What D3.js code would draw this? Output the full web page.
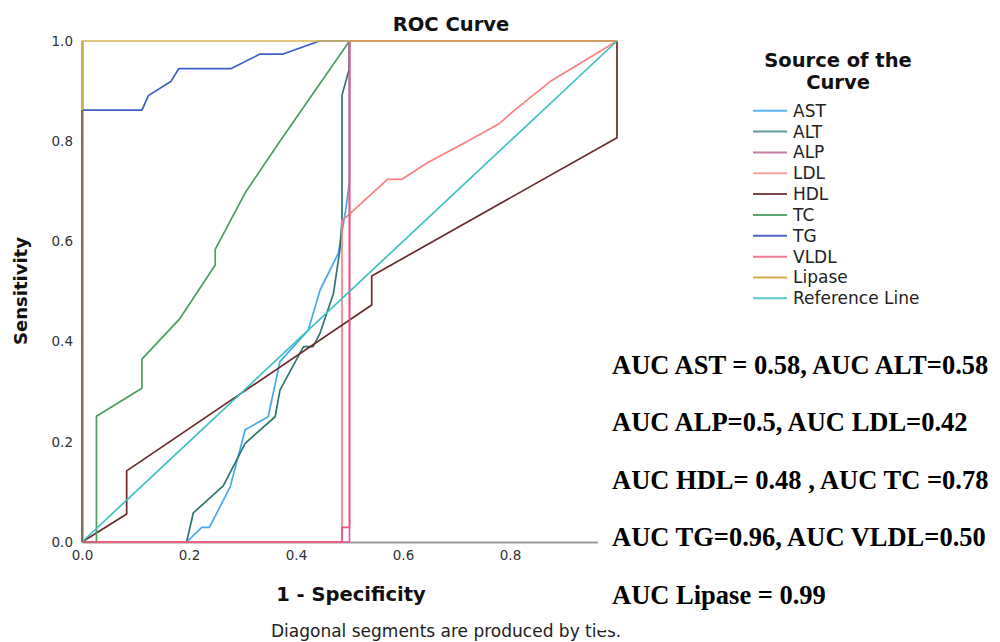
<!DOCTYPE html>
<html>
<head>
<meta charset="utf-8">
<script src="https://cdn.jsdelivr.net/npm/d3@7"></script>
<style>
  body { margin: 0; background: #fff; }
  svg { display: block; }
</style>
</head>
<body>
<script>
// ROC points, [1 - specificity, sensitivity]
var ast = [[0.1955,0],[0.224,0.029],[0.238,0.029],[0.277,0.11],[0.305,0.224],[0.348,0.25],[0.37,0.36],[0.423,0.423],[0.445,0.503],[0.479,0.576],[0.493,0.663],[0.5,0.72],[0.5,1],[1,1]];
var alt = [[0.1955,0],[0.208,0.058],[0.264,0.112],[0.305,0.197],[0.361,0.25],[0.37,0.303],[0.414,0.39],[0.432,0.39],[0.445,0.417],[0.47,0.496],[0.482,0.583],[0.486,0.643],[0.486,0.892],[0.499,0.942],[0.5,1],[1,1]];
var alp = [[0,0],[0.5,0],[0.5,1],[1,1]];
var ldl = [[0,0],[0.486,0],[0.486,0.641],[0.571,0.724],[0.598,0.724],[0.644,0.756],[0.731,0.806],[0.781,0.836],[0.803,0.857],[0.875,0.919],[1,1]];
var hdl = [[0,0],[0.0835,0.056],[0.0835,0.142],[0.5415,0.473],[0.5415,0.531],[1,0.807],[1,1]];
var tc = [[0,0],[0.027,0],[0.027,0.251],[0.112,0.307],[0.112,0.365],[0.183,0.446],[0.249,0.553],[0.249,0.584],[0.305,0.697],[0.37,0.80],[0.5,1],[1,1]];
var tg = [[0,0],[0,0.862],[0.112,0.862],[0.124,0.891],[0.166,0.919],[0.181,0.945],[0.279,0.945],[0.333,0.974],[0.376,0.974],[0.444,1],[1,1]];
var vldl = [[0,0],[0.486,0],[0.486,0.029],[0.5,0.029],[0.5,1],[1,1]];
var lipase = [[0,0],[0,1],[1,1]];
var refLine = [[0,0],[1,1]];

var names = ["AST", "ALT", "ALP", "LDL", "HDL", "TC", "TG", "VLDL", "Lipase", "Reference Line"];
var curves = [ast, alt, alp, ldl, hdl, tc, tg, vldl, lipase, refLine];
var xTicks = [0, 0.2, 0.4, 0.6, 0.8];
var yTicks = [0, 0.2, 0.4, 0.6, 0.8, 1.0];
var aucLines = [
  "AUC AST = 0.58, AUC ALT=0.58",
  "AUC ALP=0.5, AUC LDL=0.42",
  "AUC HDL= 0.48 , AUC TC =0.78",
  "AUC TG=0.96, AUC VLDL=0.50",
  "AUC Lipase = 0.99"
];

var colors = ["#45a8f0", "#2f7670", "#d8639a", "#f98080", "#6a2a2a", "#4b9e5e", "#3b5fc6", "#f0557c", "#d6b254", "#3cc0c0"];
var legendColors = ["#5ab4f2", "#5f9a95", "#c57fa2", "#f8a0a0", "#7a4444", "#5aa66c", "#4a68c0", "#ef7a96", "#d4aa4a", "#5ccaca"];

var width = 1000, height = 642;

var svg = d3.select("body").append("svg")
    .attr("width", width)
    .attr("height", height);

var x = d3.scaleLinear().domain([0, 1]).range([82, 617]);
var y = d3.scaleLinear().domain([0, 1]).range([542, 41]);

// axes
svg.append("g")
    .attr("transform", "translate(0,542)")
    .call(d3.axisBottom(x).tickValues(xTicks).tickSize(0).tickPadding(8).tickFormat(d3.format(".1f")))
    .call(g => g.select(".domain").attr("stroke", "#9a9a9a").attr("stroke-width", 2))
    .call(g => g.selectAll("text").attr("font-family", "DejaVu Sans").attr("font-size", 13.5).attr("fill", "#333"));

svg.append("g")
    .attr("transform", "translate(82,0)")
    .call(d3.axisLeft(y).tickValues(yTicks).tickSize(0).tickPadding(9).tickFormat(d3.format(".1f")))
    .call(g => g.select(".domain").attr("stroke", "#7b7050").attr("stroke-width", 2))
    .call(g => g.selectAll("text").attr("font-family", "DejaVu Sans").attr("font-size", 13.5).attr("fill", "#333"));

var line = d3.line()
    .x(d => x(d[0]))
    .y(d => y(d[1]));

svg.append("g")
  .selectAll("path")
  .data(curves)
  .join("path")
    .attr("d", line)
    .attr("fill", "none")
    .attr("stroke", (d, i) => colors[i])
    .attr("stroke-width", 1.7)
    .attr("stroke-linejoin", "round");

// lower part of the left edge reads darker where TG and Lipase overlap
svg.append("path")
    .attr("d", line([[0, 0], [0, 0.862]]))
    .attr("stroke", "#7b7050")
    .attr("stroke-width", 2);

// titles
svg.append("text")
    .attr("x", 451).attr("y", 31)
    .attr("text-anchor", "middle")
    .attr("font-family", "DejaVu Sans").attr("font-weight", "bold").attr("font-size", 19.5)
    .attr("fill", "#111")
    .text("ROC Curve");

svg.append("text")
    .attr("transform", "translate(27,291) rotate(-90)")
    .attr("text-anchor", "middle")
    .attr("font-family", "DejaVu Sans").attr("font-weight", "bold").attr("font-size", 18)
    .attr("fill", "#111")
    .text("Sensitivity");

svg.append("text")
    .attr("x", 351).attr("y", 601)
    .attr("text-anchor", "middle")
    .attr("font-family", "DejaVu Sans").attr("font-weight", "bold").attr("font-size", 19.5)
    .attr("fill", "#111")
    .text("1 - Specificity");

svg.append("text")
    .attr("x", 271).attr("y", 637)
    .attr("font-family", "DejaVu Sans").attr("font-size", 17)
    .attr("fill", "#222")
    .text("Diagonal segments are produced by ties.");

// legend
var legend = svg.append("g");
legend.append("text")
    .attr("x", 838).attr("y", 67)
    .attr("text-anchor", "middle")
    .attr("font-family", "DejaVu Sans").attr("font-weight", "bold").attr("font-size", 19.5)
    .attr("fill", "#111")
    .text("Source of the");
legend.append("text")
    .attr("x", 838).attr("y", 89)
    .attr("text-anchor", "middle")
    .attr("font-family", "DejaVu Sans").attr("font-weight", "bold").attr("font-size", 19.5)
    .attr("fill", "#111")
    .text("Curve");

var item = legend.selectAll(".item")
    .data(names)
    .join("g")
    .attr("class", "item")
    .attr("transform", (d, i) => `translate(0,${110.7 + i * 20.85})`);

item.append("line")
    .attr("x1", 753).attr("x2", 787)
    .attr("stroke", (d, i) => legendColors[i])
    .attr("stroke-width", 2);

item.append("text")
    .attr("x", 793).attr("dy", "0.35em")
    .attr("font-family", "DejaVu Sans").attr("font-size", 17)
    .attr("fill", "#222")
    .text(d => d);

// AUC annotation box
svg.append("rect")
    .attr("x", 598).attr("y", 335)
    .attr("width", 402).attr("height", 295)
    .attr("fill", "#fff");

svg.append("g")
  .selectAll("text")
  .data(aucLines)
  .join("text")
    .attr("x", 612)
    .attr("y", (d, i) => 373.5 + i * 57.5)
    .attr("font-family", "Liberation Serif").attr("font-weight", "bold").attr("font-size", 26.5)
    .attr("fill", "#000")
    .text(d => d);
</script>
</body>
</html>
